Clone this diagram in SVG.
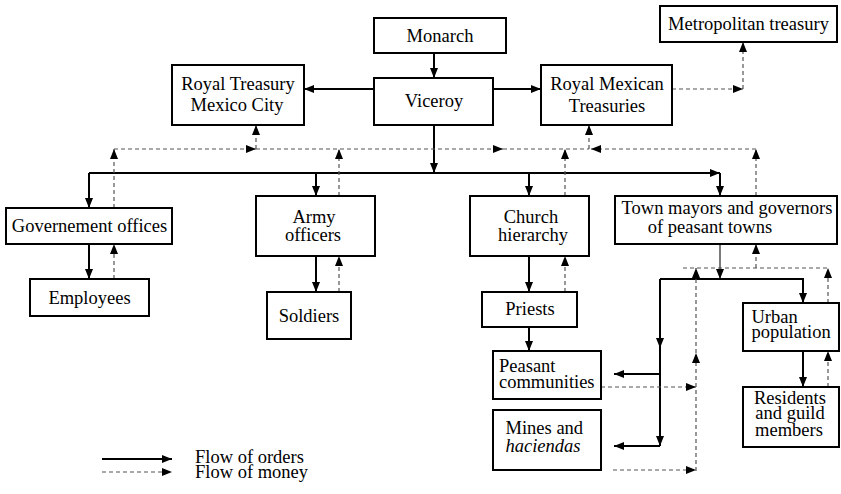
<svg xmlns="http://www.w3.org/2000/svg" width="841" height="494" viewBox="0 0 841 494" font-family="Liberation Serif, Times New Roman, DejaVu Serif, serif">
  <style>
    .box { fill: #fff; stroke: #000; stroke-width: 2; }
    .t { font-size: 18.5px; fill: #000; }
    .c { text-anchor: middle; }
    .order { fill: none; stroke: #000; stroke-width: 2; }
    .thin { fill: none; stroke: #333; stroke-width: 1.3; }
    .money { fill: none; stroke: #555; stroke-width: 1.2; stroke-dasharray: 4 3; }
  </style>
  <defs>
    <marker id="ah" viewBox="0 0 10 8" refX="10" refY="4" markerWidth="10" markerHeight="8" markerUnits="userSpaceOnUse" orient="auto">
      <path d="M0,0 L10,4 L0,8 z" fill="#000"/>
    </marker>
  </defs>

  <rect width="841" height="494" fill="#fff"/>

  <!-- connectors -->
  <g id="connectors">
    <!-- flow of orders -->
    <g id="orders" marker-end="url(#ah)">
      <path class="order" d="M434,53 V78"/>
      <path class="order" d="M374,89 H304"/>
      <path class="order" d="M493,89 H541"/>
      <path class="order" d="M434,125 V173"/>
      <path class="order" d="M89,173 H720"/>
      <path class="order" d="M720,173 V196"/>
      <path class="order" d="M89,173 V208"/>
      <path class="order" d="M316,173 V196"/>
      <path class="order" d="M529,173 V196"/>
      <path class="order" d="M89,244 V279"/>
      <path class="order" d="M316,256 V292"/>
      <path class="order" d="M529,256 V292"/>
      <path class="order" d="M529,327 V351"/>
      <path class="thin" d="M720,244 V279"/>
      <path class="order" d="M660,279 H803 V303"/>
      <path class="order" d="M660,279 V348"/>
      <path class="order" d="M660,348 V446"/>
      <path class="order" d="M660,374 H614"/>
      <path class="order" d="M660,446 H614"/>
      <path class="order" d="M803,351 V387"/>
      <path class="order" d="M102,459 H172"/>
    </g>
    <!-- flow of money -->
    <g id="money" marker-end="url(#ah)">
      <path class="money" d="M672,89 H743"/>
      <path class="money" d="M743,89 V42"/>
      <path class="money" d="M114,208 V149"/>
      <path class="money" d="M114,149 H256"/>
      <path class="money" d="M256,149 V125"/>
      <path class="money" d="M256,149 H503"/>
      <path class="money" d="M339,196 V149"/>
      <path class="money" d="M503,149 H589" marker-end="none"/>
      <path class="money" d="M589,149 V125"/>
      <path class="money" d="M756,149 H591"/>
      <path class="money" d="M565,196 V149"/>
      <path class="money" d="M756,196 V149"/>
      <path class="money" d="M114,279 V244"/>
      <path class="money" d="M339,292 V256"/>
      <path class="money" d="M565,292 V256"/>
      <path class="money" d="M683,268 H828" marker-end="none"/>
      <path class="money" d="M756,268 V244"/>
      <path class="money" d="M696,471 V353"/>
      <path class="money" d="M696,353 V268"/>
      <path class="money" d="M601,387 H696"/>
      <path class="money" d="M613,470 H696"/>
      <path class="money" d="M828,303 V268"/>
      <path class="money" d="M828,387 V351"/>
      <path class="money" d="M102,472 H172"/>
    </g>
  </g>

  <!-- nodes -->
  <g id="monarch">
    <rect class="box" x="374" y="18" width="132" height="35"/>
    <text class="t c" x="440" y="42">Monarch</text>
  </g>
  <g id="viceroy">
    <rect class="box" x="374" y="78" width="119" height="47"/>
    <text class="t c" x="434" y="107">Viceroy</text>
  </g>
  <g id="royal-treasury">
    <rect class="box" x="172" y="65" width="132" height="60"/>
    <text class="t c" x="238" y="90">Royal Treasury</text>
    <text class="t c" x="237" y="111">Mexico City</text>
  </g>
  <g id="royal-mexican-treasuries">
    <rect class="box" x="541" y="65" width="131" height="60"/>
    <text class="t c" x="607" y="90">Royal Mexican</text>
    <text class="t c" x="607" y="112">Treasuries</text>
  </g>
  <g id="metropolitan-treasury">
    <rect class="box" x="660" y="6" width="177" height="36"/>
    <text class="t c" x="748.5" y="30">Metropolitan treasury</text>
  </g>
  <g id="government-offices">
    <rect class="box" x="6" y="208" width="166" height="36"/>
    <text class="t c" x="89.5" y="232">Governement offices</text>
  </g>
  <g id="employees">
    <rect class="box" x="30" y="279" width="119" height="37"/>
    <text class="t c" x="89.5" y="304">Employees</text>
  </g>
  <g id="army-officers">
    <rect class="box" x="256" y="196" width="119" height="60"/>
    <text class="t c" x="314" y="223">Army</text>
    <text class="t c" x="313" y="241">officers</text>
  </g>
  <g id="soldiers">
    <rect class="box" x="267" y="292" width="84" height="47"/>
    <text class="t c" x="309" y="322">Soldiers</text>
  </g>
  <g id="church-hierarchy">
    <rect class="box" x="470" y="196" width="119" height="60"/>
    <text class="t c" x="531" y="223">Church</text>
    <text class="t c" x="533" y="241">hierarchy</text>
  </g>
  <g id="priests">
    <rect class="box" x="482" y="292" width="95" height="35"/>
    <text class="t c" x="530" y="315">Priests</text>
  </g>
  <g id="town-mayors">
    <rect class="box" x="615" y="196" width="222" height="48"/>
    <text class="t c" x="727" y="214">Town mayors and governors</text>
    <text class="t c" x="710" y="233">of peasant towns</text>
  </g>
  <g id="peasant-communities">
    <rect class="box" x="493" y="351" width="108" height="48"/>
    <text class="t" x="499" y="372">Peasant</text>
    <text class="t" x="499" y="388">communities</text>
  </g>
  <g id="mines-haciendas">
    <rect class="box" x="493" y="410" width="108" height="60"/>
    <text class="t" x="505.5" y="434">Mines and</text>
    <text class="t" x="505.5" y="452" font-style="italic">haciendas</text>
  </g>
  <g id="urban-population">
    <rect class="box" x="743" y="303" width="96" height="48"/>
    <text class="t" x="751.5" y="323">Urban</text>
    <text class="t" x="751.5" y="338">population</text>
  </g>
  <g id="residents">
    <rect class="box" x="743" y="387" width="96" height="60"/>
    <text class="t c" x="790" y="404">Residents</text>
    <text class="t c" x="790" y="419">and guild</text>
    <text class="t c" x="789" y="436">members</text>
  </g>

  <!-- legend -->
  <g id="legend">
    <text class="t" x="195" y="463">Flow of orders</text>
    <text class="t" x="195" y="478">Flow of money</text>
  </g>
</svg>
